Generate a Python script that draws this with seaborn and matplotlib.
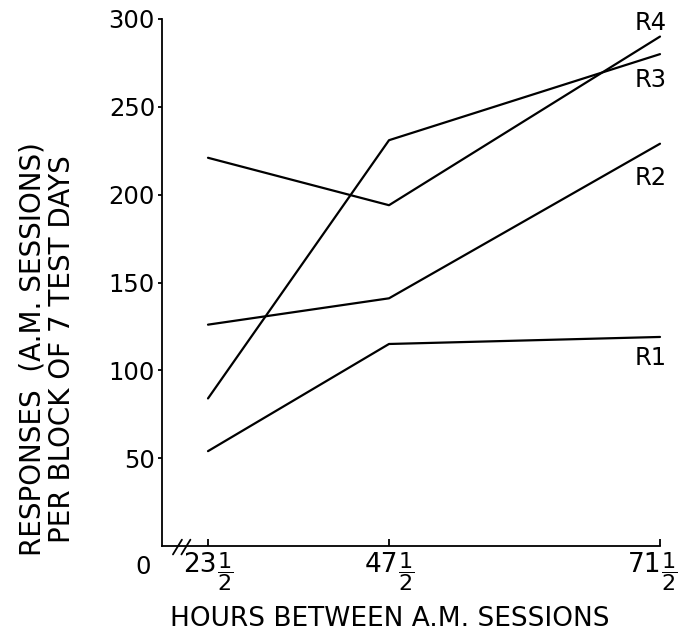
import numpy as np
import pandas as pd
import matplotlib
matplotlib.use("Agg")
import matplotlib.pyplot as plt
import matplotlib.transforms as mtransforms
import seaborn as sns

# data
hours = [23.5, 47.5, 71.5]
hour_whole = ["23", "47", "71"]
hour_frac = r"$\dfrac{1}{2}$"
series = ["R1", "R2", "R3", "R4"]
r1 = [54, 115, 119]
r2 = [126, 141, 229]
r3 = [84, 231, 280]
r4 = [221, 194, 290]
y_ticks = [50, 100, 150, 200, 250, 300]

# the original axis is hand drawn: the 24 h steps are not equal on paper
axis_hours = [0, 23.5, 47.5, 71.5]
axis_paper = [0, 46, 227, 498]

# where each end label sits relative to the line end (pixels)
label_offsets = {"R1": (-9, -21), "R2": (-9, -34), "R3": (-9, -26), "R4": (-9, 14)}
# sideways nudge of each x tick label (pixels), the last one hugs the page edge
tick_shift = [2, 2, -6]

sns.set_style("ticks")
plt.rcParams["font.family"] = ["DejaVu Sans"]
plt.rcParams["mathtext.fontset"] = "dejavusans"
plt.rcParams["text.color"] = "black"
plt.rcParams["axes.labelcolor"] = "black"
plt.rcParams["xtick.color"] = "black"
plt.rcParams["ytick.color"] = "black"
plt.rcParams["axes.edgecolor"] = "black"


def fwd(x):
    return np.interp(x, axis_hours, axis_paper)


def inv(x):
    return np.interp(x, axis_paper, axis_hours)


def main():
    df = pd.DataFrame({
        "hours": hours * 4,
        "responses": r1 + r2 + r3 + r4,
        "series": np.repeat(series, len(hours)),
    })

    fig = plt.figure(figsize=(6.8, 6.33), dpi=100)
    ax = fig.add_axes([162 / 680, 1 - 546 / 633, 498 / 680, 527 / 633])
    ax.set_xscale("function", functions=(fwd, inv))

    sns.lineplot(data=df, x="hours", y="responses", hue="series",
                 palette=["black"] * 4, linewidth=1.6, legend=False, ax=ax)
    for line in ax.lines:
        line.set_clip_on(False)

    ax.set_xlim(0, 71.5)
    ax.set_ylim(0, 300)
    sns.despine(ax=ax)
    for side in ["left", "bottom"]:
        ax.spines[side].set_linewidth(1.3)

    ax.set_yticks(y_ticks)
    ax.set_yticklabels([str(v) for v in y_ticks])
    ax.tick_params(axis="y", direction="out", length=3, width=1.3, pad=2, labelsize=17.5)
    ax.set_xticks(hours)
    ax.set_xticklabels(hour_whole)
    ax.tick_params(axis="x", direction="in", length=5, width=1.3, pad=4, labelsize=19)
    ax.minorticks_off()

    # whole hours right-aligned next to the tick, the half stacked after them
    for lab, h, dx in zip(ax.get_xticklabels(), hours, tick_shift):
        lab.set_ha("right")
        lab.set_transform(lab.get_transform()
                          + mtransforms.ScaledTranslation((dx + 7) / 100, 0, fig.dpi_scale_trans))
        ax.annotate(hour_frac, xy=(h, 0), xycoords=("data", "axes fraction"),
                    xytext=(dx + 15, -26), textcoords="offset pixels",
                    ha="center", va="center", fontsize=16)

    # the zero sits below the corner, like in the original
    ax.text(-0.038, -0.04, "0", transform=ax.transAxes, ha="center", va="center",
            fontsize=17.5)

    # axis break marks
    for cx in [0.031, 0.048]:
        ax.plot([cx - 0.009, cx + 0.009], [-0.016, 0.012], color="black",
                linewidth=1.3, transform=ax.transAxes, clip_on=False)

    # series names at the line ends
    ends = {"R1": r1[-1], "R2": r2[-1], "R3": r3[-1], "R4": r4[-1]}
    for name in series:
        ax.annotate(name, xy=(hours[-1], ends[name]), xytext=label_offsets[name],
                    textcoords="offset pixels", ha="center", va="center",
                    fontsize=17.5)

    ax.set_xlabel("HOURS BETWEEN A.M. SESSIONS", fontsize=19)
    ax.xaxis.set_label_coords((390 - 162) / 498, (546 - 606) / 527)
    ax.set_ylabel("")

    fig.text(47.5 / 680, 1 - 349 / 633,
             "RESPONSES  (A.M. SESSIONS)\nPER BLOCK OF 7 TEST DAYS",
             rotation=90, ha="center", va="center", fontsize=20, linespacing=1.05)

    fig.savefig("out.png", dpi=100)


if __name__ == "__main__":
    main()
